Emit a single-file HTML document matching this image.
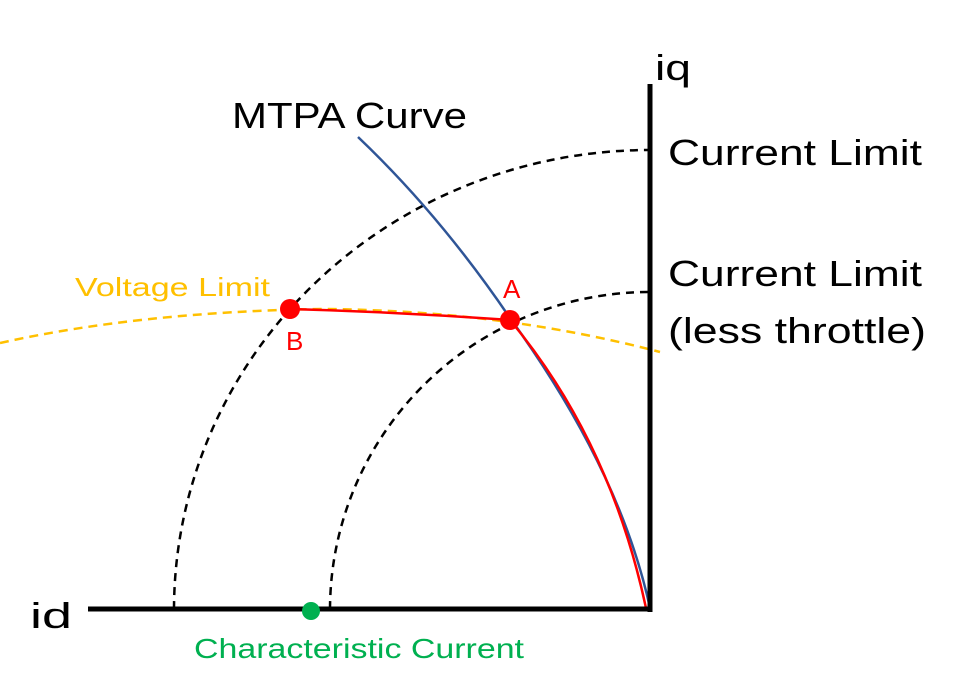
<!DOCTYPE html>
<html><head><meta charset="utf-8"><style>html,body{margin:0;padding:0;background:#fff}</style></head>
<body>
<svg width="960" height="677" viewBox="0 0 960 677" xmlns="http://www.w3.org/2000/svg" font-family="Liberation Sans, sans-serif">
<rect width="960" height="677" fill="#fff"/>
<!-- current limit arcs -->
<path d="M174,609 A476,460 0 0 1 650,150" fill="none" stroke="#000" stroke-width="2.5" stroke-dasharray="8,6"/>
<path d="M330,609 A320,318 0 0 1 650,292" fill="none" stroke="#000" stroke-width="2.5" stroke-dasharray="8,6"/>
<!-- voltage limit -->
<path d="M0,343 Q140,312 320,309 Q500,310 660,352" fill="none" stroke="#FFC000" stroke-width="2.5" stroke-dasharray="9,6"/>
<!-- MTPA -->
<path d="M358,137 Q440,215 510,318 Q620,470 650,608" fill="none" stroke="#2F5597" stroke-width="2.5"/>
<!-- red trajectory -->
<path d="M290,309 Q400,312 510,320 Q610,440 646,608" fill="none" stroke="#FF0000" stroke-width="2.5"/>
<!-- axes -->
<line x1="650" y1="84" x2="650" y2="612" stroke="#000" stroke-width="5"/>
<line x1="88" y1="609" x2="652" y2="609" stroke="#000" stroke-width="5"/>
<!-- points -->
<circle cx="290" cy="309" r="10" fill="#FF0000"/>
<circle cx="510" cy="320" r="10" fill="#FF0000"/>
<circle cx="311" cy="611" r="9" fill="#00B050"/>
<!-- labels -->
<text x="232" y="128" font-size="36" textLength="235" lengthAdjust="spacingAndGlyphs">MTPA Curve</text>
<text x="655" y="80" font-size="36" textLength="36" lengthAdjust="spacingAndGlyphs">iq</text>
<text x="668" y="165" font-size="36" textLength="254" lengthAdjust="spacingAndGlyphs">Current Limit</text>
<text x="668" y="286" font-size="36" textLength="254" lengthAdjust="spacingAndGlyphs">Current Limit</text>
<text x="668" y="343" font-size="36" textLength="258" lengthAdjust="spacingAndGlyphs">(less throttle)</text>
<text x="30" y="628" font-size="36" textLength="42" lengthAdjust="spacingAndGlyphs">id</text>
<text x="75" y="296" font-size="26" fill="#FFC000" textLength="195" lengthAdjust="spacingAndGlyphs">Voltage Limit</text>
<text x="503" y="298" font-size="26" fill="#FF0000">A</text>
<text x="286" y="350" font-size="26" fill="#FF0000">B</text>
<text x="194" y="658" font-size="28" fill="#00B050" textLength="330" lengthAdjust="spacingAndGlyphs">Characteristic Current</text>
</svg>
</body></html>
